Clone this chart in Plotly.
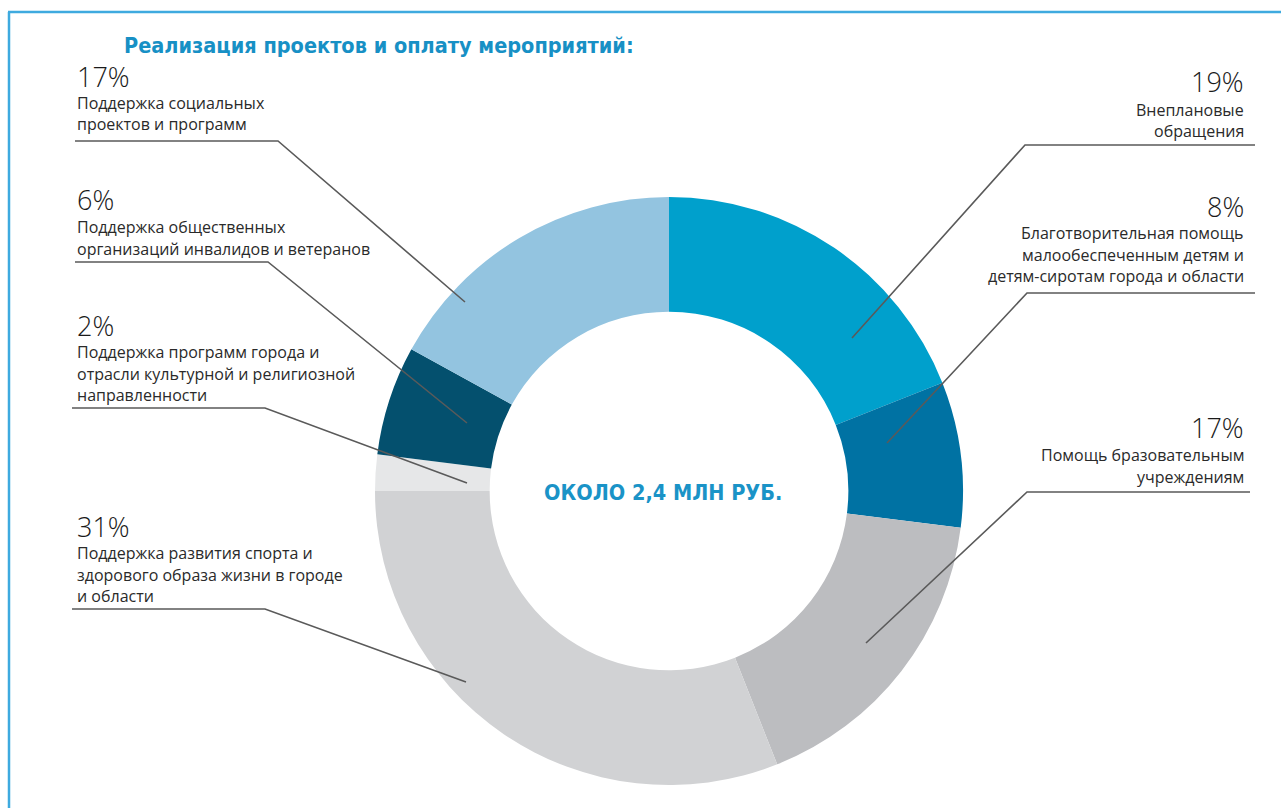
import plotly.graph_objects as go

# ---------------- data ----------------
percents = [19, 8, 17, 31, 2, 6, 17]
categories = [
    "Внеплановые<br>обращения",
    "Благотворительная помощь<br>малообеспеченным детям и<br>детям-сиротам города и области",
    "Помощь бразовательным<br>учреждениям",
    "Поддержка развития спорта и<br>здорового образа жизни в городе<br>и области",
    "Поддержка программ города и<br>отрасли культурной и религиозной<br>направленности",
    "Поддержка общественных<br>организаций инвалидов и ветеранов",
    "Поддержка социальных<br>проектов и программ",
]
colors = ["#00a0cc", "#0072a3", "#bcbdc0", "#d1d2d4", "#e6e7e8", "#04506e", "#93c4e0"]
title_text = "Реализация проектов и оплату мероприятий:"
center_text = "ОКОЛО 2,4 МЛН РУБ."

# ---------------- layout (pixel positions) ----------------
W, H = 1281, 808
CX, CY, R = 669, 491, 294
HOLE = 0.61

# side, text x, pct center y, first-line center y, underline y, underline x0, x1, leader end x, y
label_pos = [
    ("r", 1245, 82, 110, 145, 1025, 1255, 852, 338),
    ("r", 1245, 206, 233, 293, 1027, 1255, 887, 443),
    ("r", 1245, 427, 455, 492, 1027, 1250, 866, 643),
    ("l", 76, 526, 553, 609, 72, 265, 466, 682),
    ("l", 76, 325, 352, 408, 72, 265, 467, 483),
    ("l", 76, 199, 227, 262, 75, 268, 467, 423),
    ("l", 76, 77, 103, 141, 75, 278, 465, 302),
]
LINE_STEP = 21.5


def X(px):
    return px / W


def Y(py):
    return 1 - py / H


fig = go.Figure()
fig.add_trace(go.Pie(
    values=percents,
    labels=[c.replace("<br>", " ") for c in categories],
    marker=dict(colors=colors, line=dict(width=0)),
    hole=HOLE,
    sort=False,
    direction="clockwise",
    rotation=0,
    textinfo="none",
    hoverinfo="label+percent",
    showlegend=False,
    domain=dict(x=[X(CX - R), X(CX + R)], y=[Y(CY + R), Y(CY - R)]),
))

annotations = []
shapes = []

pct_font = dict(family="Open Sans, Lato, sans-serif", size=27, color="#1a1a1a", weight=300)
lab_font = dict(family="Open Sans, Noto Sans, sans-serif", size=16, color="#2a2a2a")

for pct, cat, pos in zip(percents, categories, label_pos):
    side, tx, py, ly, uy, ux0, ux1, ex, ey = pos
    anchor = "right" if side == "r" else "left"
    annotations.append(dict(
        text=f"{pct}%", x=X(tx), y=Y(py), xref="paper", yref="paper",
        xanchor=anchor, yanchor="middle", showarrow=False, font=pct_font, borderpad=0,
    ))
    for i, line in enumerate(cat.split("<br>")):
        annotations.append(dict(
            text=line, x=X(tx), y=Y(ly + i * LINE_STEP), xref="paper", yref="paper",
            xanchor=anchor, yanchor="middle", showarrow=False, font=lab_font, borderpad=0,
        ))
    if side == "r":
        path = f"M {X(ux1)},{Y(uy)} L {X(ux0)},{Y(uy)} L {X(ex)},{Y(ey)}"
    else:
        path = f"M {X(ux0)},{Y(uy)} L {X(ux1)},{Y(uy)} L {X(ex)},{Y(ey)}"
    shapes.append(dict(type="path", path=path, xref="paper", yref="paper",
                       line=dict(color="#5a5a5a", width=1.6)))

cond = "Liberation Sans Narrow, DejaVu Sans Condensed, sans-serif"
# title
annotations.append(dict(
    text=f"<b>{title_text}</b>", x=X(122), y=Y(45), xref="paper", yref="paper",
    xanchor="left", yanchor="middle", showarrow=False,
    font=dict(family=cond, size=21.5, color="#1790c5"),
))
# center text
annotations.append(dict(
    text=f"<b>{center_text}</b>", x=X(663), y=Y(492), xref="paper", yref="paper",
    xanchor="center", yanchor="middle", showarrow=False,
    font=dict(family=cond, size=21.5, color="#1a93c7"),
))

# frame
frame_col = "#3eaadf"
shapes.append(dict(type="line", xref="paper", yref="paper", x0=X(9), x1=X(9), y0=Y(12), y1=Y(H),
                   line=dict(color=frame_col, width=2.5)))
shapes.append(dict(type="line", xref="paper", yref="paper", x0=X(8), x1=X(W), y0=Y(12), y1=Y(12),
                   line=dict(color=frame_col, width=2.5)))

fig.update_layout(
    width=W, height=H,
    margin=dict(l=0, r=0, t=0, b=0),
    paper_bgcolor="white", plot_bgcolor="white",
    annotations=annotations, shapes=shapes,
)

fig.write_html("out.html", config={"displayModeBar": False},
               post_script="document.body.style.margin='0';")
